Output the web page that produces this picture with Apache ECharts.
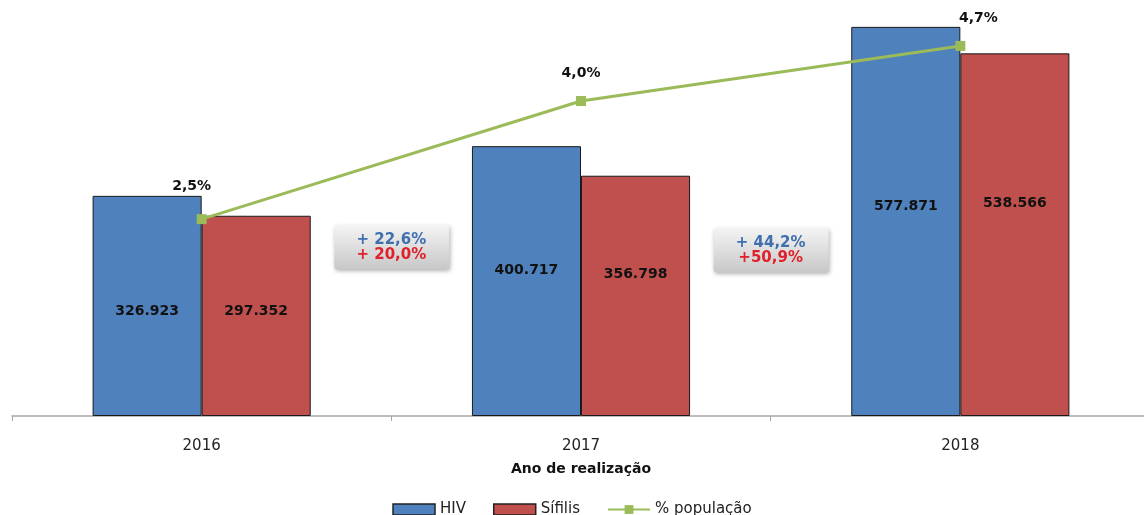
<!DOCTYPE html>
<html>
<head>
<meta charset="utf-8">
<script src="https://cdn.jsdelivr.net/npm/echarts@6/dist/echarts.min.js"></script>
<style>
  html, body { margin: 0; padding: 0; background: #fff; }
  #main { width: 1144px; height: 515px; }
</style>
</head>
<body>
<div id="main"></div>
<script>
// dados
var anos = ['2016', '2017', '2018'];
var hiv = [326923, 400717, 577871];
var sifilis = [297352, 356798, 538566];
var populacao = [2.5, 4.0, 4.7];
var varHiv = ['+ 22,6%', '+ 44,2%'];
var varSifilis = ['+ 20,0%', '+50,9%'];

// ajustes de posicao dos rotulos (como no original)
var offHiv = [5, -11, -15];
var offSif = [-5, -22, -31];
var offPop = [[-10, -5], [0, 0], [18, 0]];

function fmtMil(v) {
  return String(v).replace(/\B(?=(\d{3})+(?!\d))/g, '.');
}

var chart = echarts.init(document.getElementById('main'), null, { renderer: 'canvas' });
var font = 'DejaVu Sans';

var barLabel = function (offs) {
  return function (v, i) {
    return {
      value: v,
      label: { offset: [0, offs[i]] }
    };
  };
};

var option = {
  backgroundColor: '#ffffff',
  animation: false,
  textStyle: { fontFamily: font },
  grid: { left: 12, top: 16, width: 1138, height: 400, outerBoundsMode: 'none', containLabel: false },
  legend: {
    top: 502,
    left: 'center',
    padding: 0,
    itemWidth: 42,
    itemHeight: 11,
    itemGap: 27,
    textStyle: { fontSize: 15, color: '#222', fontFamily: font },
    data: [
      { name: 'HIV', icon: 'rect', itemStyle: { borderColor: '#222', borderWidth: 1.5 } },
      { name: 'Sífilis', icon: 'rect', itemStyle: { borderColor: '#222', borderWidth: 1.5 } },
      { name: '% população' }
    ]
  },
  xAxis: {
    type: 'category',
    data: anos,
    name: 'Ano de realização',
    nameLocation: 'middle',
    nameGap: 46,
    nameTextStyle: { fontSize: 14, fontWeight: 'bold', color: '#111', fontFamily: font },
    axisLine: { lineStyle: { color: '#a6a6a6', width: 1.5 } },
    axisTick: { show: true, length: 5, lineStyle: { color: '#a6a6a6' } },
    axisLabel: { fontSize: 15, color: '#222', margin: 23, fontFamily: font }
  },
  yAxis: [
    { type: 'value', min: 0, max: 594000, show: false, splitLine: { show: false } },
    { type: 'value', min: 0, max: 5.08, show: false, splitLine: { show: false } }
  ],
  series: [
    {
      name: 'HIV',
      type: 'bar',
      barGap: '0%',
      barCategoryGap: '42.5%',
      data: hiv.map(barLabel(offHiv)),
      itemStyle: { color: '#4F81BD', borderColor: '#1a1a1a', borderWidth: 1 },
      label: {
        show: true, position: 'inside', fontSize: 14, fontWeight: 'bold', color: '#111',
        fontFamily: font,
        formatter: function (p) { return fmtMil(p.value); }
      }
    },
    {
      name: 'Sífilis',
      type: 'bar',
      data: sifilis.map(barLabel(offSif)),
      itemStyle: { color: '#C0504D', borderColor: '#1a1a1a', borderWidth: 1 },
      label: {
        show: true, position: 'inside', fontSize: 14, fontWeight: 'bold', color: '#111',
        fontFamily: font,
        formatter: function (p) { return fmtMil(p.value); }
      }
    },
    {
      name: '% população',
      type: 'line',
      yAxisIndex: 1,
      z: 5,
      data: populacao.map(function (v, i) {
        return { value: v, label: { offset: offPop[i] } };
      }),
      symbol: 'rect',
      symbolSize: 10,
      lineStyle: { color: '#9BBB59', width: 3 },
      itemStyle: { color: '#9BBB59' },
      label: {
        show: true, position: 'top', distance: 16, fontSize: 14, fontWeight: 'bold',
        color: '#111', fontFamily: font,
        formatter: function (p) { return p.value.toFixed(1).replace('.', ',') + '%'; }
      }
    }
  ]
};
chart.setOption(option);

// caixas de variacao entre os anos
var caixas = [];
var topos = [225, 228];
for (var i = 0; i < anos.length - 1; i++) {
  var x0 = chart.convertToPixel({ xAxisIndex: 0 }, anos[i]);
  var x1 = chart.convertToPixel({ xAxisIndex: 0 }, anos[i + 1]);
  var cx = (x0 + x1) / 2;
  var y = topos[i];
  caixas.push({
    type: 'rect',
    shape: { x: cx - 57, y: y, width: 115, height: 44, r: 2 },
    style: {
      fill: new echarts.graphic.LinearGradient(0, 0, 0, 1, [
        { offset: 0, color: '#f4f4f4' },
        { offset: 1, color: '#c8c8c8' }
      ]),
      shadowBlur: 4,
      shadowOffsetX: 1,
      shadowOffsetY: 2,
      shadowColor: 'rgba(0,0,0,0.3)'
    },
    z: 10
  });
  caixas.push({
    type: 'text',
    x: cx,
    y: y + 15,
    style: {
      text: varHiv[i], fill: '#3F6FAF', font: 'bold 15px "DejaVu Sans"',
      align: 'center', verticalAlign: 'middle'
    },
    z: 11
  });
  caixas.push({
    type: 'text',
    x: cx,
    y: y + 30,
    style: {
      text: varSifilis[i], fill: '#E0202A', font: 'bold 15px "DejaVu Sans"',
      align: 'center', verticalAlign: 'middle'
    },
    z: 11
  });
}
chart.setOption({ graphic: caixas });
</script>
</body>
</html>
